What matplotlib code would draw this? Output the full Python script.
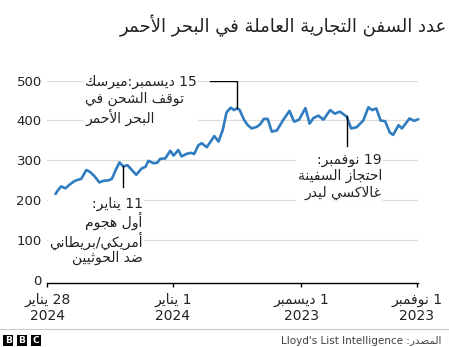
import re
import matplotlib
matplotlib.use('Agg')
import matplotlib.pyplot as plt
from matplotlib.patches import Rectangle
from matplotlib.lines import Line2D

# days after 1 Nov 2023 (as drawn), and ships in the Red Sea
day_offset = [86.8, 85.7, 84.7, 83.7, 82.5, 81.4, 79.9, 78.7, 77.8, 76.8,
              75.6, 74.6, 73.4, 72.6, 71.7, 70.8, 69.9, 68.9, 67.7, 66.8,
              65.5, 64.6, 63.9, 62.7, 61.8, 61.1, 59.9, 58.7, 57.9, 56.8,
              56.0, 54.9, 53.8, 53.0, 52.0, 51.2, 50.0, 48.2, 47.2, 46.2,
              45.3, 44.3, 43.5, 42.9, 42.2, 41.1, 40.3, 39.3, 38.1, 37.3,
              36.4, 35.5, 34.5, 33.3, 31.8, 30.3, 29.2, 28.0, 26.5, 25.5,
              24.6, 23.4, 22.2, 20.6, 19.5, 18.3, 16.7, 15.6, 14.3, 12.7,
              11.5, 10.6, 9.6, 8.6, 7.5, 6.4, 5.6, 4.3, 3.5, 1.7,
              0.6, -0.4]
ships = [200, 222, 235, 230, 241, 249, 254, 276, 271, 261,
         245, 249, 250, 254, 276, 295, 285, 288, 274, 264,
         280, 284, 299, 293, 294, 304, 305, 324, 312, 326,
         310, 316, 319, 316, 338, 343, 333, 361, 347, 376,
         420, 432, 426, 430, 427, 401, 389, 380, 384, 390,
         404, 404, 372, 375, 401, 424, 397, 402, 431, 392,
         406, 412, 402, 426, 417, 422, 410, 380, 383, 400,
         433, 426, 430, 400, 398, 370, 364, 388, 380, 405,
         399, 403]

y_ticks = [0, 100, 200, 300, 400, 500]
x_tick_pos = [88.0, 58.1, 27.5, 0.0]
x_tick_labels = ['28 يناير\n2024', '1 يناير\n2024', '1 ديسمبر\n2023', '1 نوفمبر\n2023']

title = 'عدد السفن التجارية العاملة في البحر الأحمر'
note_dec = '15 ديسمبر:ميرسك\nتوقف الشحن في\nالبحر الأحمر'
note_jan = '11 يناير:\nأول هجوم\nأمريكي/بريطاني\nضد الحوثيين'
note_nov = '19 نوفمبر:\nاحتجاز السفينة\nغالاكسي ليدر'
source = "المصدر: Lloyd's List Intelligence"

# matplotlib has no arabic shaping, so map letters to presentation forms
# (isolated, final, initial, medial)
FORMS = {
    'ء': ('\ufe80', None, None, None),
    'آ': ('\ufe81', '\ufe82', None, None),
    'أ': ('\ufe83', '\ufe84', None, None),
    'ؤ': ('\ufe85', '\ufe86', None, None),
    'إ': ('\ufe87', '\ufe88', None, None),
    'ئ': ('\ufe89', '\ufe8a', '\ufe8b', '\ufe8c'),
    'ا': ('\ufe8d', '\ufe8e', None, None),
    'ب': ('\ufe8f', '\ufe90', '\ufe91', '\ufe92'),
    'ة': ('\ufe93', '\ufe94', None, None),
    'ت': ('\ufe95', '\ufe96', '\ufe97', '\ufe98'),
    'ث': ('\ufe99', '\ufe9a', '\ufe9b', '\ufe9c'),
    'ج': ('\ufe9d', '\ufe9e', '\ufe9f', '\ufea0'),
    'ح': ('\ufea1', '\ufea2', '\ufea3', '\ufea4'),
    'خ': ('\ufea5', '\ufea6', '\ufea7', '\ufea8'),
    'د': ('\ufea9', '\ufeaa', None, None),
    'ذ': ('\ufeab', '\ufeac', None, None),
    'ر': ('\ufead', '\ufeae', None, None),
    'ز': ('\ufeaf', '\ufeb0', None, None),
    'س': ('\ufeb1', '\ufeb2', '\ufeb3', '\ufeb4'),
    'ش': ('\ufeb5', '\ufeb6', '\ufeb7', '\ufeb8'),
    'ص': ('\ufeb9', '\ufeba', '\ufebb', '\ufebc'),
    'ض': ('\ufebd', '\ufebe', '\ufebf', '\ufec0'),
    'ط': ('\ufec1', '\ufec2', '\ufec3', '\ufec4'),
    'ظ': ('\ufec5', '\ufec6', '\ufec7', '\ufec8'),
    'ع': ('\ufec9', '\ufeca', '\ufecb', '\ufecc'),
    'غ': ('\ufecd', '\ufece', '\ufecf', '\ufed0'),
    'ف': ('\ufed1', '\ufed2', '\ufed3', '\ufed4'),
    'ق': ('\ufed5', '\ufed6', '\ufed7', '\ufed8'),
    'ك': ('\ufed9', '\ufeda', '\ufedb', '\ufedc'),
    'ل': ('\ufedd', '\ufede', '\ufedf', '\ufee0'),
    'م': ('\ufee1', '\ufee2', '\ufee3', '\ufee4'),
    'ن': ('\ufee5', '\ufee6', '\ufee7', '\ufee8'),
    'ه': ('\ufee9', '\ufeea', '\ufeeb', '\ufeec'),
    'و': ('\ufeed', '\ufeee', None, None),
    'ى': ('\ufeef', '\ufef0', None, None),
    'ي': ('\ufef1', '\ufef2', '\ufef3', '\ufef4'),
}
LAM_ALEF = {'آ': ('\ufef5', '\ufef6'), 'أ': ('\ufef7', '\ufef8'),
            'إ': ('\ufef9', '\ufefa'), 'ا': ('\ufefb', '\ufefc')}


def _joins_next(t):
    if isinstance(t, tuple):
        return False
    f = FORMS.get(t)
    return f is not None and f[2] is not None


def _joins_prev(t):
    if isinstance(t, tuple):
        return True
    f = FORMS.get(t)
    return f is not None and f[1] is not None


def shape(text):
    toks = []
    i = 0
    while i < len(text):
        c = text[i]
        if c == 'ل' and i + 1 < len(text) and text[i + 1] in LAM_ALEF:
            toks.append(('la', text[i + 1]))
            i += 2
        else:
            toks.append(c)
            i += 1
    out = []
    for k, t in enumerate(toks):
        prev = toks[k - 1] if k > 0 else None
        nxt = toks[k + 1] if k + 1 < len(toks) else None
        p = prev is not None and _joins_next(prev) and _joins_prev(t)
        if isinstance(t, tuple):
            out.append(LAM_ALEF[t[1]][1 if p else 0])
            continue
        f = FORMS.get(t)
        if f is None:
            out.append(t)
            continue
        n = nxt is not None and _joins_next(t) and _joins_prev(nxt)
        if p and n:
            out.append(f[3])
        elif p:
            out.append(f[1])
        elif n:
            out.append(f[2])
        else:
            out.append(f[0])
    return ''.join(out)


def ar(text):
    lines = []
    for line in text.split('\n'):
        parts = re.split(r"([0-9A-Za-z][0-9A-Za-z' .]*[0-9A-Za-z]|[0-9A-Za-z])", shape(line))
        vis = [p if i % 2 else p[::-1] for i, p in enumerate(parts)]
        lines.append(''.join(reversed(vis)))
    return '\n'.join(lines)


plt.rcParams['font.family'] = ['DejaVu Sans']

W, H = 449, 347
fig = plt.figure(figsize=(W / 100, H / 100), dpi=100)
ax = fig.add_axes([47.3 / W, (H - 283.3) / H, 371 / W, (283.3 - 80.5) / H])
ax.set_xlim(88.0, -0.4)
ax.set_ylim(-7.6, 500)

for v in y_ticks[1:]:
    ax.axhline(v, color='#dcdcdc', lw=0.9, zorder=0)

ax.plot(day_offset, ships, color='#2f7cc0', lw=1.9, solid_joinstyle='round',
        solid_capstyle='round', clip_on=False, zorder=3)

for s in ['top', 'left', 'right']:
    ax.spines[s].set_visible(False)
ax.spines['bottom'].set_color('#000000')
ax.spines['bottom'].set_linewidth(1.0)

ax.set_yticks(y_ticks)
ax.tick_params(axis='y', length=0, pad=4, labelsize=9.5, labelcolor='#222222')
ax.set_xticks(x_tick_pos)
ax.set_xticklabels([ar(t) for t in x_tick_labels])
ax.tick_params(axis='x', length=3, width=1.0, pad=4, labelsize=10, labelcolor='#222222')

box = dict(fc='white', ec='none', pad=1)
# 15 December note
ax.plot([49.2, 42.9, 42.9], [500, 500, 430], color='black', lw=1.0, zorder=4)
ax.text(79.0, 450.6, ar(note_dec), ha='left', va='center', multialignment='left',
        fontsize=10, color='#222222', linespacing=1.2, bbox=box, zorder=5)
# 11 January note
ax.plot([69.9, 69.9], [285, 232.5], color='black', lw=1.0, zorder=4)
ax.text(65.3, 123.7, ar(note_jan), ha='right', va='center', multialignment='right',
        fontsize=10, color='#222222', linespacing=1.1, bbox=box, zorder=5)
# 19 November note
ax.plot([16.65, 16.65], [410, 336], color='black', lw=1.0, zorder=4)
ax.text(8.3, 260, ar(note_nov), ha='right', va='center', multialignment='right',
        fontsize=10, color='#222222', linespacing=1.2, bbox=box, zorder=5)

fig.text(447 / W, 1 - 26 / H, ar(title), ha='right', va='center', fontsize=13, color='#222222')

fig.add_artist(Line2D([0, 1], [1 - 329.3 / H] * 2, color='#cccccc', lw=0.8))
for i, letter in enumerate('BBC'):
    x0 = (3.3 + i * 13.7) / W
    fig.add_artist(Rectangle((x0, 1 - 346 / H), 10 / W, 11 / H, fc='black', ec='none'))
    fig.text(x0 + 5 / W, 1 - 340.5 / H, letter, ha='center', va='center',
             color='white', fontsize=6.5, fontweight='bold')
fig.text(441.7 / W, 1 - 340.7 / H, ar(source), ha='right', va='center', fontsize=7.5, color='#404040')

fig.savefig('out.png', dpi=100)
